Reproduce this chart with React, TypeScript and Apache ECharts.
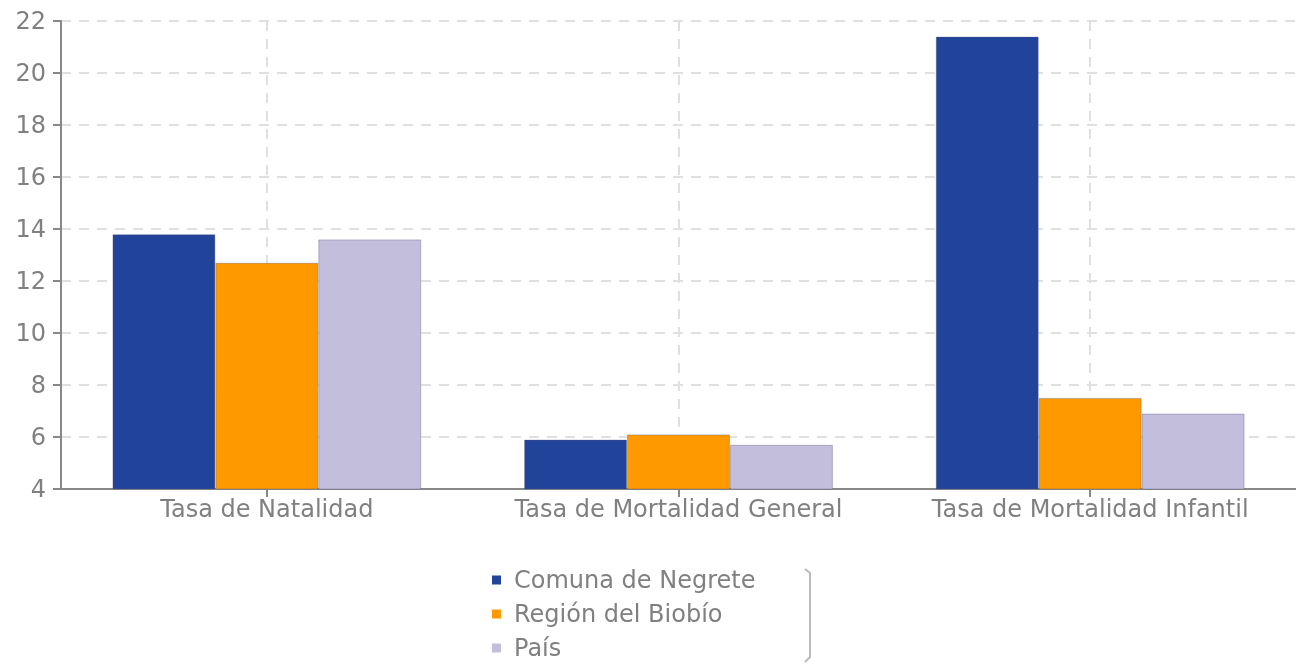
import React, { useEffect, useRef } from "react";
import * as echarts from "echarts";

const categories = ["Tasa de Natalidad", "Tasa de Mortalidad General", "Tasa de Mortalidad Infantil"];
const comunaNegrete = [13.8, 5.9, 21.4];
const regionBiobio = [12.7, 6.1, 7.5];
const pais = [13.6, 5.7, 6.9];
const seriesNames = ["Comuna de Negrete", "Región del Biobío", "País"];
const colors = ["#21449a", "#ff9900", "#c2bedc"];

export default function App() {
  const ref = useRef<HTMLDivElement>(null);
  useEffect(() => {
    const chart = echarts.init(ref.current!, null, { renderer: "svg" });
    const font = "DejaVu Sans";
    const values = [comunaNegrete, regionBiobio, pais];
    chart.setOption({
      animation: false,
      textStyle: { fontFamily: font },
      grid: { left: 61, top: 21, right: 0, bottom: 175, containLabel: false },
      xAxis: {
        type: "category",
        data: categories,
        axisLine: { lineStyle: { color: "#888", width: 2 } },
        axisTick: { show: true, interval: 0, alignWithLabel: true, length: 8, lineStyle: { color: "#888", width: 2 } },
        axisLabel: { interval: 0, color: "#808080", fontSize: 24, margin: 8, fontFamily: font },
        splitLine: { show: true, interval: 0, alignWithLabel: true, lineStyle: { color: "#e0e0e0", type: [10, 8], width: 2 } },
      },
      yAxis: {
        type: "value",
        min: 4,
        max: 22,
        interval: 2,
        axisLine: { show: true, lineStyle: { color: "#888", width: 2 } },
        axisTick: { show: true, length: 8, lineStyle: { color: "#888", width: 2 } },
        axisLabel: { color: "#808080", fontSize: 24, margin: 15, fontFamily: font },
        splitLine: { show: true, lineStyle: { color: "#e0e0e0", type: [10, 8], width: 2 } },
      },
      legend: {
        orient: "vertical",
        left: 492,
        top: 566,
        height: 120,
        padding: 0,
        itemWidth: 9,
        itemHeight: 9,
        itemGap: 6,
        icon: "rect",
        itemStyle: { borderWidth: 0 },
        textStyle: { color: "#808080", fontSize: 24, fontFamily: font, padding: [0, 0, 0, 8], lineHeight: 28 },
        data: seriesNames,
      },
      graphic: [
        {
          type: "polyline",
          shape: { points: [[805, 569], [810, 573], [810, 657], [805, 662]] },
          style: { stroke: "#bbb", lineWidth: 2, fill: "none" },
        },
      ],
      series: seriesNames.map((name, i) => ({
        name,
        type: "bar",
        data: values[i],
        barGap: "0%",
        barCategoryGap: "25%",
        itemStyle: { color: colors[i], borderColor: "rgba(80,80,120,0.35)", borderWidth: 1 },
      })),
    });
    return () => chart.dispose();
  }, []);
  return <div ref={ref} style={{ position: "fixed", left: 0, top: 0, width: 1296, height: 664 }} />;
}
